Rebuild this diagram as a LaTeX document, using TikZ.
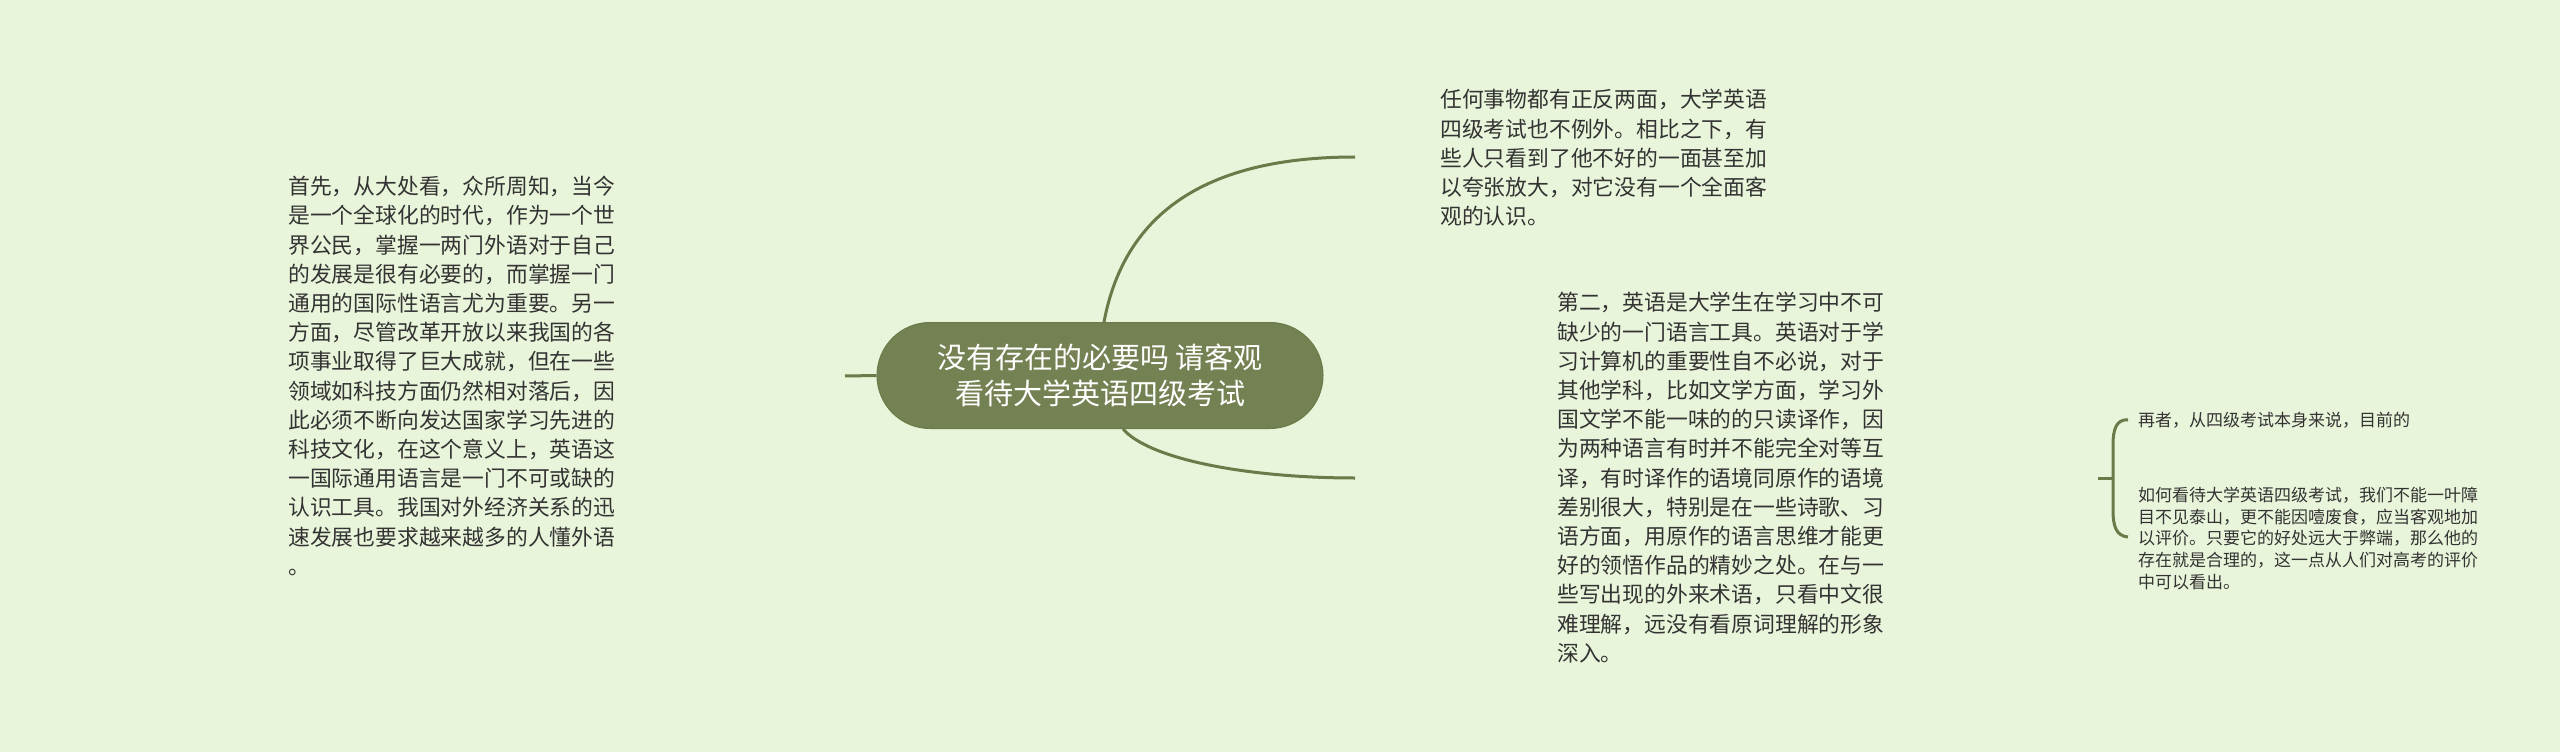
\documentclass[tikz,border=0pt]{standalone}
\usepackage{fontspec}
\usepackage{tikz}
\newfontfamily\cjk{Noto Sans CJK SC}
\definecolor{bgcol}{HTML}{E9F5DA}
\definecolor{rootcol}{HTML}{748152}
\definecolor{linecol}{HTML}{6A7A48}
\definecolor{txtcol}{HTML}{333333}
\tikzset{main node/.style={rectangle,rounded corners=53pt,fill=rootcol,draw=linecol,line width=1pt,
            minimum width=446pt,minimum height=106pt,inner sep=0pt,text=white,align=center,
            font=\cjk\fontsize{29}{36}\selectfont},
         text node/.style={anchor=north west,inner sep=0pt,align=left,text=txtcol,
            font=\cjk\fontsize{21.8}{29.2}\selectfont},
         small node/.style={anchor=north west,inner sep=0pt,align=left,text=txtcol,
            font=\cjk\fontsize{17}{21.9}\selectfont},
         branch/.style={draw=linecol,line width=3pt},
            }

\begin{document}
\begin{tikzpicture}[x=1pt,y=-1pt]
    \fill[bgcol] (0,0) rectangle (2560,752);
    \useasboundingbox (0,0) rectangle (2560,752);

    \node[main node] (root) at (1100,375.5) {没有存在的必要吗 请客观\\看待大学英语四级考试};

    \node[text node] (1) at (288,176.1) {首先，从大处看，众所周知，当今\\
是一个全球化的时代，作为一个世\\
界公民，掌握一两门外语对于自己\\
的发展是很有必要的，而掌握一门\\
通用的国际性语言尤为重要。另一\\
方面，尽管改革开放以来我国的各\\
项事业取得了巨大成就，但在一些\\
领域如科技方面仍然相对落后，因\\
此必须不断向发达国家学习先进的\\
科技文化，在这个意义上，英语这\\
一国际通用语言是一门不可或缺的\\
认识工具。我国对外经济关系的迅\\
速发展也要求越来越多的人懂外语\\
。};
    \node[text node] (2) at (1440,89.1) {任何事物都有正反两面，大学英语\\
四级考试也不例外。相比之下，有\\
些人只看到了他不好的一面甚至加\\
以夸张放大，对它没有一个全面客\\
观的认识。};
    \node[text node] (3) at (1557,292.1) {第二，英语是大学生在学习中不可\\
缺少的一门语言工具。英语对于学\\
习计算机的重要性自不必说，对于\\
其他学科，比如文学方面，学习外\\
国文学不能一味的的只读译作，因\\
为两种语言有时并不能完全对等互\\
译，有时译作的语境同原作的语境\\
差别很大，特别是在一些诗歌、习\\
语方面，用原作的语言思维才能更\\
好的领悟作品的精妙之处。在与一\\
些写出现的外来术语，只看中文很\\
难理解，远没有看原词理解的形象\\
深入。};
    \node[small node] (4) at (2138,411.5) {再者，从四级考试本身来说，目前的};
    \node[small node] (5) at (2138,486.5) {如何看待大学英语四级考试，我们不能一叶障\\
目不见泰山，更不能因噎废食，应当客观地加\\
以评价。只要它的好处远大于弊端，那么他的\\
存在就是合理的，这一点从人们对高考的评价\\
中可以看出。};

    % branch ends
    \coordinate (l) at (845,376);
    \coordinate (e2) at (1355,157);
    \coordinate (e3) at (1355,478);
    \coordinate (t) at (2098,478);

    \path[branch] (root.west) -- (l);
    \path[branch] ([xshift=4pt]root.north) .. controls (1125,210) and (1210,157) .. (e2);
    \path[branch] ([xshift=23pt]root.south) .. controls (1150,460) and (1250,478) .. (e3);

    % bracket
    \path[branch] (t) -- (2113,478);
    \path[branch] (4.west) ++(-10pt,0) .. controls (2116,419) and (2113,430) .. (2113,445)
        -- (2113,510) .. controls (2113,526) and (2116,536) .. (2128,537);
\end{tikzpicture}
\end{document}
